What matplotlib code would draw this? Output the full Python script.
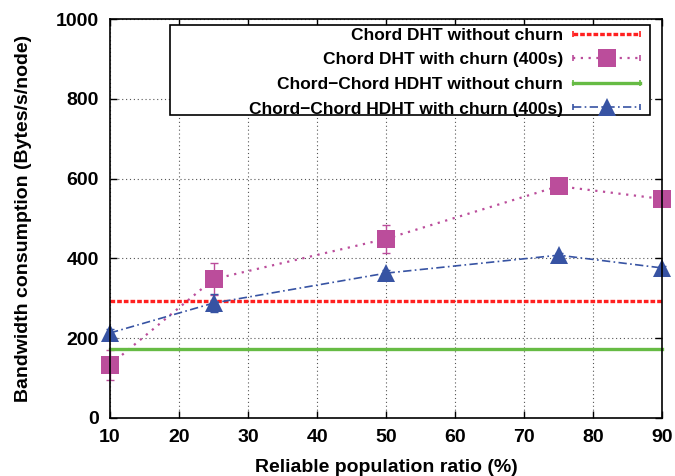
import matplotlib
matplotlib.use("Agg")
import matplotlib.pyplot as plt
from matplotlib.legend_handler import HandlerBase
from matplotlib.lines import Line2D
from matplotlib.patches import Rectangle

plt.rcParams['font.family'] = ['Liberation Sans', 'DejaVu Sans']
plt.rcParams['font.weight'] = 'bold'

x = [10, 25, 50, 75, 90]
chord_nochurn = [293, 293, 293, 293, 293]
chord_churn = [133, 348, 449, 581, 549]
chord_churn_err = [38, 40, 35, 10, 10]
hdht_nochurn = [173, 173, 173, 173, 173]
hdht_churn = [213, 288, 363, 408, 376]
hdht_churn_err = [10, 22, 8, 6, 6]

labels = ["Chord DHT without churn", "Chord DHT with churn (400s)",
          "Chord\u2212Chord HDHT without churn", "Chord\u2212Chord HDHT with churn (400s)"]

styles = [
    dict(color='#ff2020', ls=(0, (1.4, 0.6)), lw=2.4, marker=None, ms=0),
    dict(color='#bb4d9b', ls=(0, (1, 2.5)), lw=1.6, marker='s', ms=13.5),
    dict(color='#66bb44', ls='-', lw=2.4, marker=None, ms=0),
    dict(color='#3753a3', ls=(0, (5, 2, 1, 2)), lw=1.2, marker='^', ms=13),
]
style_by_label = dict(zip(labels, styles))

fig = plt.figure(figsize=(6.75, 4.76), dpi=100)
ax = fig.add_axes([0.163, 0.122, 0.818, 0.838])

series = [(chord_nochurn, None), (chord_churn, chord_churn_err),
          (hdht_nochurn, None), (hdht_churn, hdht_churn_err)]
for (ys, err), st, lab in zip(series, styles, labels):
    if err is not None:
        ax.errorbar(x, ys, yerr=err, fmt='none', ecolor=st['color'], elinewidth=1.0,
                    capsize=3, capthick=1.0, clip_on=False, zorder=3)
    ax.plot(x, ys, color=st['color'], linestyle=st['ls'], linewidth=st['lw'],
            marker=st['marker'] if st['marker'] else 'None', markersize=st['ms'],
            markeredgewidth=0, clip_on=False, zorder=4, label=lab)


class CapHandler(HandlerBase):
    def create_artists(self, legend, orig_handle, xdescent, ydescent, width, height,
                       fontsize, trans):
        st = style_by_label[orig_handle.get_label()]
        y = height / 2 - ydescent
        x0, x1 = -xdescent, -xdescent + width
        line = Line2D([x0, x1], [y, y], color=st['color'], linestyle=st['ls'],
                      linewidth=st['lw'])
        caps = Line2D([x0, x1], [y, y], color=st['color'], linestyle='None',
                      marker='|', markersize=5, markeredgewidth=1.2)
        arts = [line, caps]
        if st['marker']:
            m = Line2D([(x0 + x1) / 2], [y], color=st['color'], linestyle='None',
                       marker=st['marker'], markersize=st['ms'], markeredgewidth=0)
            arts.append(m)
        for a in arts:
            a.set_transform(trans)
        return arts


ax.set_xlim(10, 90)
ax.set_ylim(0, 1000)
ax.set_xticks([10, 20, 30, 40, 50, 60, 70, 80, 90])
ax.set_yticks([0, 200, 400, 600, 800, 1000])
ax.grid(True, linestyle=(0, (1, 2.5)), color='#555555', linewidth=0.8)
ax.set_axisbelow(True)
ax.tick_params(direction='in', top=True, right=True, labelsize=14, length=5, width=1, pad=8)
for lab in ax.get_xticklabels() + ax.get_yticklabels():
    lab.set_fontweight('bold')
for s in ax.spines.values():
    s.set_linewidth(1.2)
    s.set_zorder(5)

ax.set_xlabel("Reliable population ratio (%)", fontsize=14, fontweight='bold', labelpad=9)
ax.set_ylabel("Bandwidth consumption (Bytes/s/node)", fontsize=14, fontweight='bold', labelpad=17)

# legend box (frame drawn separately to match the wide box of the reference)
box = Rectangle((0.1087, 0.759), 0.978 - 0.1087, 0.985 - 0.759, transform=ax.transAxes,
                facecolor='white', edgecolor='black', linewidth=1.2, zorder=9, clip_on=False)
ax.add_patch(box)

handles, labs = ax.get_legend_handles_labels()
leg = ax.legend(handles, labs, loc='upper right', bbox_to_anchor=(0.960, 0.978), markerfirst=False,
                fontsize=12.5, frameon=False,
                borderaxespad=0, handlelength=3.85, handletextpad=0.6, labelspacing=0.54,
                borderpad=0, handler_map={Line2D: CapHandler()})
leg.set_zorder(10)
for t in leg.get_texts():
    t.set_fontweight('bold')

fig.savefig("out.png", dpi=100)
